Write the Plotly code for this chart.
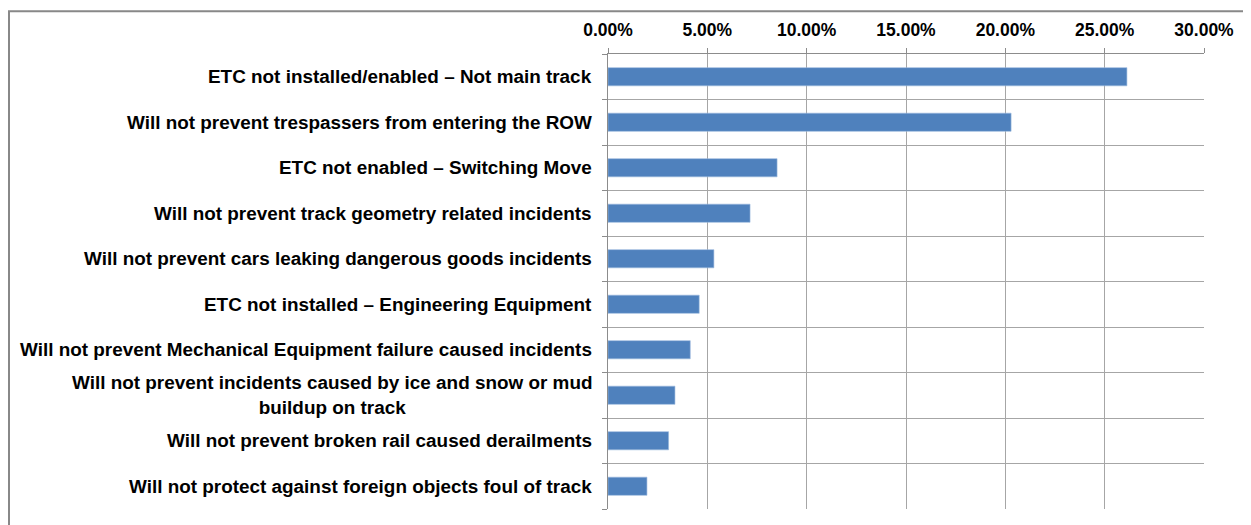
import plotly.graph_objects as go

categories = [
    "ETC not installed/enabled – Not main track",
    "Will not prevent trespassers from entering the ROW",
    "ETC not enabled – Switching Move",
    "Will not prevent track geometry related incidents",
    "Will not prevent cars leaking dangerous goods incidents",
    "ETC not installed – Engineering Equipment",
    "Will not prevent Mechanical Equipment failure caused incidents",
    "Will not prevent incidents caused by ice and snow or mud<br>buildup on track",
    "Will not prevent broken rail caused derailments",
    "Will not protect against foreign objects foul of track",
]
values = [0.2612, 0.2029, 0.0851, 0.0715, 0.0533, 0.0459, 0.0414, 0.0337, 0.0305, 0.0196]
x_tickvals = [0.0, 0.05, 0.10, 0.15, 0.20, 0.25, 0.30]

# page body has an 8px margin, so the figure is drawn 8px in from the window edge
W, H = 1243, 517
ML, MR, MT, MB = 600, 47, 44, 16
FONT = "Liberation Sans, Arial, sans-serif"
GRID = "#a6a6a6"
AXIS = "#8c8c8c"

fig = go.Figure(
    go.Bar(
        x=values,
        y=categories,
        orientation="h",
        marker=dict(color="#4F81BD", line=dict(color="#9bb9de", width=0.6)),
        hoverinfo="x+y",
    )
)

fig.update_layout(
    width=W,
    height=H,
    margin=dict(l=ML, r=MR, t=MT, b=MB, pad=0),
    paper_bgcolor="white",
    plot_bgcolor="white",
    bargap=0.6,
    showlegend=False,
    font=dict(family=FONT, color="black"),
)

fig.update_xaxes(
    side="top",
    range=[0, 0.30],
    tickvals=x_tickvals,
    tickformat=".2%",
    ticks="outside",
    ticklen=5,
    tickcolor=AXIS,
    ticklabelstandoff=5,
    showgrid=True,
    gridcolor=GRID,
    gridwidth=1,
    showline=True,
    linecolor=AXIS,
    linewidth=1,
    zeroline=False,
    tickfont=dict(family=FONT, size=17.5, color="black", weight="bold"),
)

fig.update_yaxes(
    type="category",
    categoryorder="array",
    categoryarray=categories[::-1],
    tickson="boundaries",
    ticks="outside",
    ticklen=5,
    tickcolor=AXIS,
    showgrid=True,
    gridcolor=GRID,
    gridwidth=1,
    showline=True,
    linecolor=AXIS,
    linewidth=1,
    showticklabels=False,
    zeroline=False,
)

# Category labels as annotations (right-anchored, centre-aligned lines like the original)
for cat in categories:
    fig.add_annotation(
        x=0,
        xref="paper",
        y=cat,
        yref="y",
        text="<b>" + cat + "</b>",
        showarrow=False,
        xanchor="right",
        yanchor="middle",
        align="center",
        xshift=-14,
        font=dict(family=FONT, size=18.9, color="black"),
    )

# Outer chart frame (top and left edges visible)
pw = W - ML - MR
ph = H - MT - MB
fig.add_shape(
    type="rect",
    xref="paper",
    yref="paper",
    x0=(1 - ML) / pw,
    x1=(W + 20 - ML) / pw,
    y0=-(MB + 20) / ph,
    y1=(H - 1 - MB) / ph,
    line=dict(color="#888888", width=2),
    fillcolor="rgba(0,0,0,0)",
    layer="below",
)

fig.write_html("out.html")
